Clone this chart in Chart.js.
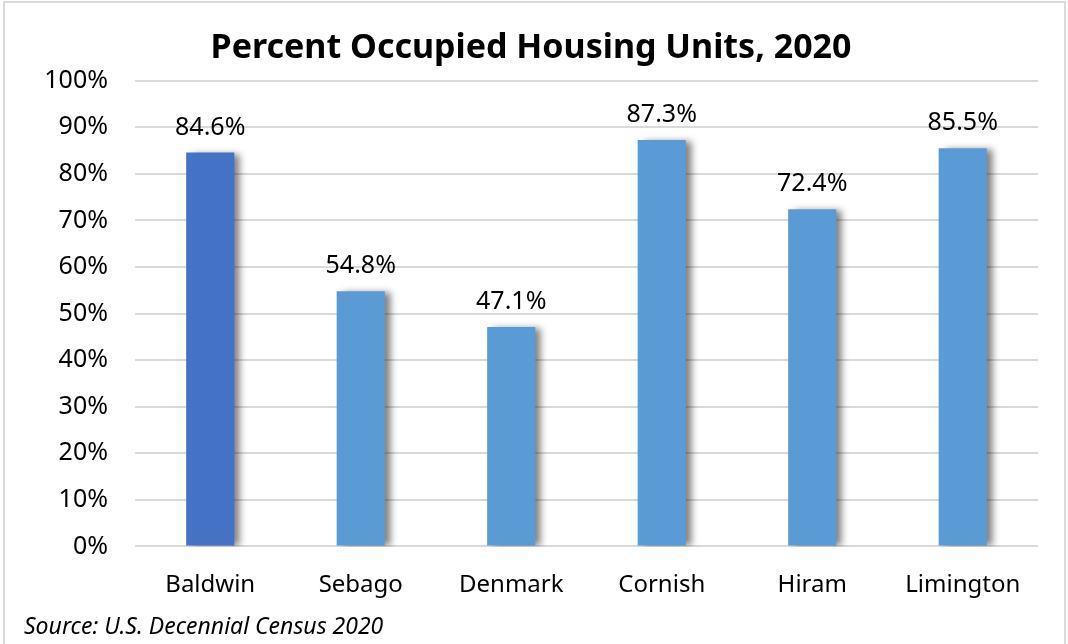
<!DOCTYPE html>
<html>
<head>
<meta charset="utf-8">
<script src="https://cdn.jsdelivr.net/npm/chart.js@4/dist/chart.umd.min.js"></script>
<style>
  html, body { margin: 0; padding: 0; background: #fff; }
  #wrap { position: absolute; left: 3px; top: 1px; width: 1063px; height: 643px; border: 2px solid #d9d9d9; border-bottom: none; box-sizing: border-box; }
  #chart { position: absolute; left: 0; top: 0; }
</style>
</head>
<body>
<div id="wrap"><canvas id="chart" width="1059" height="641"></canvas></div>
<script>
const towns = ['Baldwin', 'Sebago', 'Denmark', 'Cornish', 'Hiram', 'Limington'];
const occupied = [84.6, 54.8, 47.1, 87.3, 72.4, 85.5];
const barColors = ['#4472C4', '#5B9BD5', '#5B9BD5', '#5B9BD5', '#5B9BD5', '#5B9BD5'];
const titleText = 'Percent Occupied Housing Units, 2020';
const sourceText = 'Source: U.S. Decennial Census 2020';

const FONT = "'Noto Sans', sans-serif";

// soft shadow on the right side of each bar
const barShadow = {
    id: 'barShadow',
    beforeDatasetDraw(chart) {
        const ctx = chart.ctx;
        ctx.save();
        ctx.shadowColor = 'rgba(0,0,0,0.5)';
        ctx.shadowBlur = 7;
        ctx.shadowOffsetX = 6;
        ctx.shadowOffsetY = 1;
    },
    afterDatasetDraw(chart) {
        chart.ctx.restore();
    }
};

// value labels above bars
const valueLabels = {
    id: 'valueLabels',
    afterDatasetsDraw(chart) {
        const ctx = chart.ctx;
        const meta = chart.getDatasetMeta(0);
        ctx.save();
        ctx.font = '25px ' + FONT;
        ctx.fillStyle = '#000';
        ctx.textAlign = 'center';
        ctx.textBaseline = 'middle';
        meta.data.forEach((bar, i) => {
            ctx.fillText(occupied[i].toFixed(1) + '%', bar.x, bar.y - 25);
        });
        ctx.restore();
    }
};

new Chart(document.getElementById('chart'), {
    type: 'bar',
    data: {
        labels: towns,
        datasets: [{
            data: occupied,
            backgroundColor: barColors,
            borderWidth: 0,
            barPercentage: 0.32,
            categoryPercentage: 1
        }]
    },
    options: {
        responsive: false,
        animation: false,
        layout: { padding: { left: 19, right: 26, top: 0, bottom: 0 } },
        plugins: {
            legend: { display: false },
            tooltip: { enabled: false },
            title: {
                display: true,
                text: titleText,
                color: '#000',
                font: { family: FONT, size: 34, weight: 'bold' },
                padding: { top: 25, bottom: 12 }
            },
            subtitle: {
                display: true,
                text: sourceText,
                position: 'bottom',
                align: 'start',
                color: '#000',
                font: { family: FONT, size: 23, style: 'italic' },
                padding: { top: 0, bottom: 3 }
            }
        },
        scales: {
            x: {
                grid: { display: false, drawTicks: false },
                border: { display: false },
                ticks: { color: '#000', font: { family: FONT, size: 24 }, padding: 24 },
                afterFit(scale) { scale.height = 67; }
            },
            y: {
                min: 0,
                max: 100,
                grid: { color: '#d9d9d9', lineWidth: 2, drawTicks: false },
                border: { display: false },
                ticks: {
                    stepSize: 10,
                    color: '#000',
                    font: { family: FONT, size: 25 },
                    padding: 27,
                    callback: v => v + '%'
                },
                afterFit(scale) { scale.width = 111; }
            }
        }
    },
    plugins: [barShadow, valueLabels]
});
</script>
</body>
</html>
